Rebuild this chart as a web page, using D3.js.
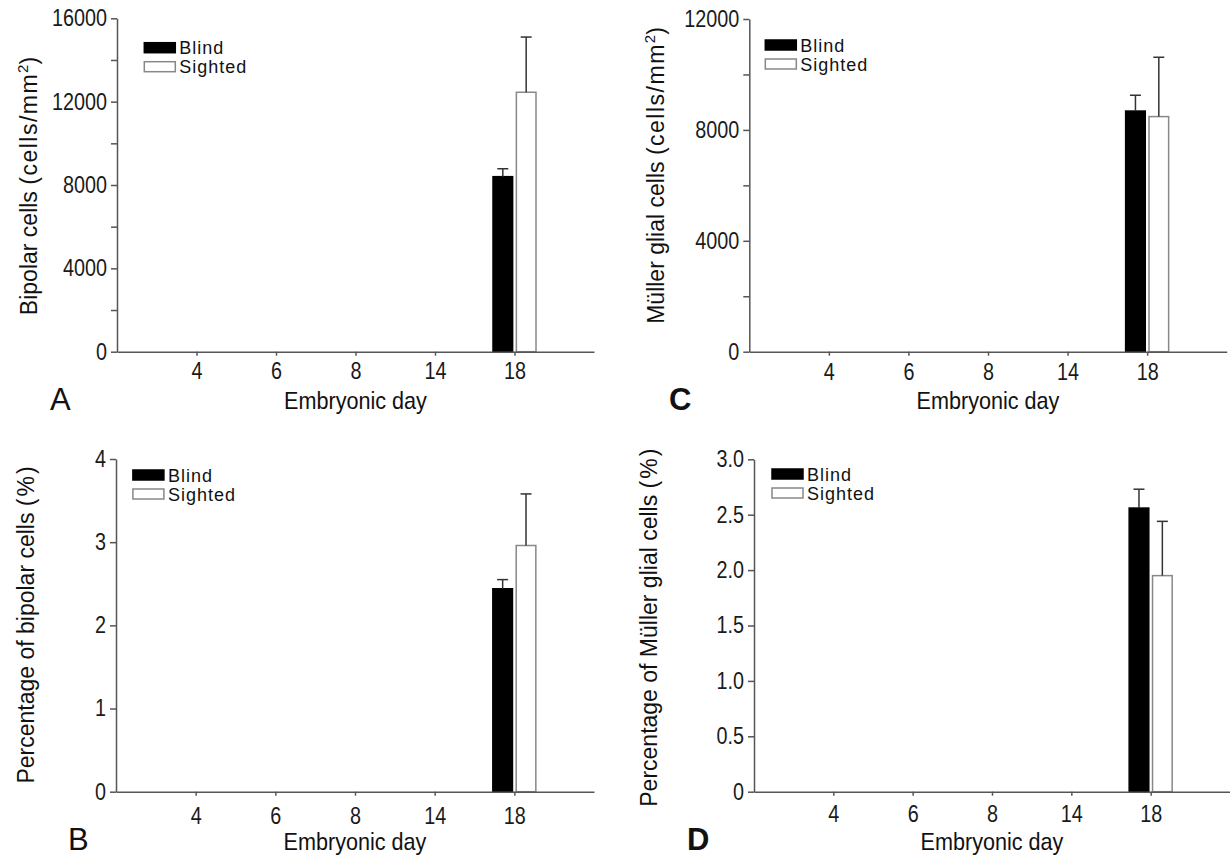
<!DOCTYPE html>
<html><head><meta charset="utf-8">
<script src="https://cdn.jsdelivr.net/npm/d3@7"></script>
<style>
body{margin:0;background:#fff;}
svg{display:block;}
text{font-family:"Liberation Sans",Arial,sans-serif;}
</style></head><body>
<svg id="chart" width="1230" height="858"></svg>
<script>
// ---------- data ----------
const days = ["4", "6", "8", "14", "18"];
const seriesNames = ["Blind", "Sighted"];

// Panel A: bipolar cells (cells/mm2)
const bipolarDensityBlind      = [null, null, null, null, 8400];
const bipolarDensityBlindErr   = [null, null, null, null, 380];
const bipolarDensitySighted    = [null, null, null, null, 12450];
const bipolarDensitySightedErr = [null, null, null, null, 2650];
const ticksA = [0, 4000, 8000, 12000, 16000];
const minorTicksA = [2000, 6000, 10000, 14000];

// Panel B: percentage of bipolar cells (%)
const bipolarPctBlind      = [null, null, null, null, 2.44];
const bipolarPctBlindErr   = [null, null, null, null, 0.11];
const bipolarPctSighted    = [null, null, null, null, 2.96];
const bipolarPctSightedErr = [null, null, null, null, 0.62];
const ticksB = [0, 1, 2, 3, 4];

// Panel C: Müller glial cells (cells/mm2)
const mullerDensityBlind      = [null, null, null, null, 8680];
const mullerDensityBlindErr   = [null, null, null, null, 570];
const mullerDensitySighted    = [null, null, null, null, 8480];
const mullerDensitySightedErr = [null, null, null, null, 2140];
const ticksC = [0, 4000, 8000, 12000];
const minorTicksC = [2000, 6000, 10000];

// Panel D: percentage of Müller glial cells (%)
const mullerPctBlind      = [null, null, null, null, 2.56];
const mullerPctBlindErr   = [null, null, null, null, 0.17];
const mullerPctSighted    = [null, null, null, null, 1.95];
const mullerPctSightedErr = [null, null, null, null, 0.49];
const ticksD = [0, 0.5, 1.0, 1.5, 2.0, 2.5, 3.0];

// ---------- drawing ----------
const svg = d3.select("#chart");
const AXIS = "#555";

function styleAxis(s) {
  s.selectAll("path, line").attr("stroke", AXIS).attr("stroke-width", 1.5);
  s.selectAll("text").attr("font-size", 23).attr("fill", "#1a1a1a")
    .attr("font-family", '"Liberation Sans", Arial, sans-serif')
    .attr("transform", "scale(0.86,1)");
}

function drawPanel(p) {
  const g = svg.append("g");
  const x = d3.scalePoint().domain(days).range([p.x0, p.x1]).padding(1);
  const inner = d3.scaleBand().domain(seriesNames).range([-21.5, 21.5]).paddingInner(0.16);
  const y = d3.scaleLinear().domain([0, p.yMax]).range([p.y0, p.y1]);

  const rows = [];
  days.forEach((d, i) => {
    [[p.blind, p.blindErr, "Blind"], [p.sighted, p.sightedErr, "Sighted"]].forEach(([vals, errs, s]) => {
      if (vals[i] != null) rows.push({ day: d, series: s, v: vals[i], e: errs[i] });
    });
  });

  // bars
  g.selectAll("rect.bar").data(rows).join("rect")
    .attr("class", "bar")
    .attr("x", r => x(r.day) + inner(r.series))
    .attr("width", inner.bandwidth())
    .attr("y", r => y(r.v))
    .attr("height", r => y(0) - y(r.v))
    .attr("fill", r => r.series === "Blind" ? "#000" : "#fff")
    .attr("stroke", r => r.series === "Blind" ? "#000" : "#888")
    .attr("stroke-width", 1.5);

  // error bars (upper)
  const cx = r => x(r.day) + inner(r.series) + inner.bandwidth() / 2;
  const eb = g.selectAll("g.err").data(rows).join("g").attr("class", "err");
  eb.append("line")
    .attr("x1", cx).attr("x2", cx)
    .attr("y1", r => y(r.v)).attr("y2", r => y(r.v + r.e))
    .attr("stroke", "#333").attr("stroke-width", 1.5);
  eb.append("line")
    .attr("x1", r => cx(r) - 5.5).attr("x2", r => cx(r) + 5.5)
    .attr("y1", r => y(r.v + r.e)).attr("y2", r => y(r.v + r.e))
    .attr("stroke", "#333").attr("stroke-width", 1.5);

  // axes
  if (p.minor) {
    g.append("g").attr("transform", `translate(${p.x0},0)`)
      .call(d3.axisLeft(y).tickValues(p.minor).tickSize(6).tickFormat(""))
      .call(s => s.select(".domain").remove())
      .call(styleAxis);
  }
  g.append("g").attr("transform", `translate(${p.x0},0)`)
    .call(d3.axisLeft(y).tickValues(p.ticks).tickFormat(p.fmt).tickSize(6).tickSizeOuter(0).tickPadding(5.6))
    .call(styleAxis);
  g.append("g").attr("transform", `translate(0,${p.y0})`)
    .call(d3.axisBottom(x).tickSize(4).tickSizeOuter(0).tickPadding(p.xPad))
    .call(styleAxis);

  // x title (slightly condensed)
  g.append("g").attr("transform", `translate(${(p.x0 + p.x1) / 2},${p.xTitleY})`)
    .append("text").attr("text-anchor", "middle").attr("font-size", 24)
    .attr("transform", "scale(0.9,1)").attr("fill", "#111")
    .text("Embryonic day");

  // y title
  const yt = g.append("text")
    .attr("transform", `translate(${p.yTitleX},${p.yTitleY}) rotate(-90)`)
    .attr("text-anchor", "middle").attr("font-size", 23).attr("fill", "#111");
  p.yTitle(yt);

  // legend
  seriesNames.forEach((s, i) => {
    const ly = p.legY + i * 19;
    g.append("rect").attr("x", p.legX).attr("y", ly).attr("width", 31).attr("height", 10)
      .attr("fill", s === "Blind" ? "#000" : "#fff")
      .attr("stroke", s === "Blind" ? "#000" : "#888").attr("stroke-width", 1.5);
    g.append("text").attr("x", p.legX + 35).attr("y", ly + 11.5)
      .attr("font-size", 18).attr("letter-spacing", 1).attr("fill", "#111").text(s);
  });

  // panel letter
  g.append("text").attr("x", p.letterX).attr("y", p.letterY)
    .attr("font-size", 31).attr("font-weight", p.letterBold ? "bold" : "normal")
    .attr("fill", "#111").text(p.letter);
}

function densityTitle(prefix) {
  return t => {
    t.append("tspan").text(prefix + " ");
    t.append("tspan").attr("letter-spacing", 1.5).text("(cells/mm");
    t.append("tspan").attr("font-size", 15).attr("dy", -9).text("2");
    t.append("tspan").attr("dy", 9).text(")");
  };
}
function pctTitle(prefix) {
  return t => {
    t.append("tspan").text(prefix + " ");
    t.append("tspan").attr("letter-spacing", 2).text("(%)");
  };
}

const fmtInt = d3.format("d");
const fmtDec = d => d === 0 ? "0" : d.toFixed(1);

drawPanel({
  x0: 117, x1: 594, y0: 351.7, y1: 18.3, yMax: 16000,
  ticks: ticksA, minor: minorTicksA, fmt: fmtInt, xPad: 7,
  blind: bipolarDensityBlind, blindErr: bipolarDensityBlindErr,
  sighted: bipolarDensitySighted, sightedErr: bipolarDensitySightedErr,
  xTitleY: 409, yTitleX: 37, yTitleY: 186, yTitle: densityTitle("Bipolar cells"),
  legX: 144.3, legY: 42.7, letter: "A", letterX: 50, letterY: 410, letterBold: false
});
drawPanel({
  x0: 116, x1: 594, y0: 791.7, y1: 459, yMax: 4,
  ticks: ticksB, minor: null, fmt: fmtInt, xPad: 11.5,
  blind: bipolarPctBlind, blindErr: bipolarPctBlindErr,
  sighted: bipolarPctSighted, sightedErr: bipolarPctSightedErr,
  xTitleY: 850, yTitleX: 34, yTitleY: 624, yTitle: pctTitle("Percentage of bipolar cells"),
  legX: 132.9, legY: 470, letter: "B", letterX: 68, letterY: 850, letterBold: false
});
drawPanel({
  x0: 749.3, x1: 1226.7, y0: 351.7, y1: 19, yMax: 12000,
  ticks: ticksC, minor: minorTicksC, fmt: fmtInt, xPad: 7.6,
  blind: mullerDensityBlind, blindErr: mullerDensityBlindErr,
  sighted: mullerDensitySighted, sightedErr: mullerDensitySightedErr,
  xTitleY: 409, yTitleX: 664, yTitleY: 175.5, yTitle: densityTitle("Müller glial cells"),
  legX: 765.3, legY: 40, letter: "C", letterX: 669, letterY: 410, letterBold: true
});
drawPanel({
  x0: 754, x1: 1230, y0: 791.7, y1: 459.3, yMax: 3,
  ticks: ticksD, minor: null, fmt: fmtDec, xPad: 10,
  blind: mullerPctBlind, blindErr: mullerPctBlindErr,
  sighted: mullerPctSighted, sightedErr: mullerPctSightedErr,
  xTitleY: 850, yTitleX: 657, yTitleY: 626.7, yTitle: pctTitle("Percentage of Müller glial cells"),
  legX: 772, legY: 469, letter: "D", letterX: 687, letterY: 850, letterBold: true
});
</script>
</body></html>
